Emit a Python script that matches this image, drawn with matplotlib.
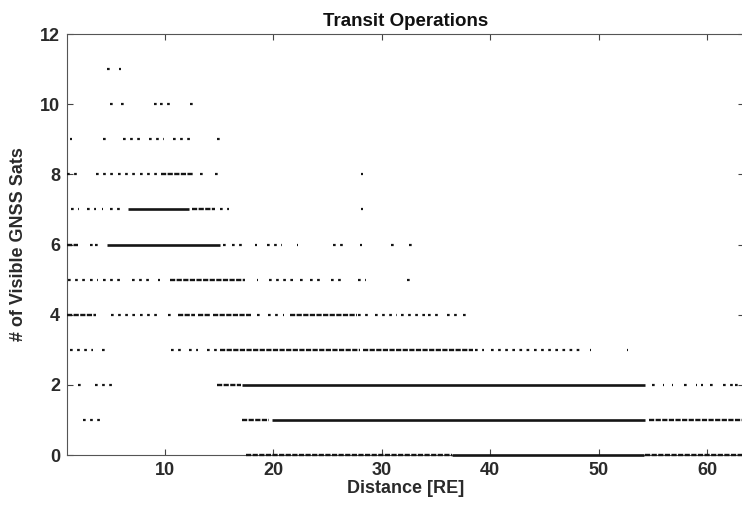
import matplotlib
matplotlib.use("Agg")
import matplotlib.pyplot as plt

# ---- data: runs of observations (distance [RE]) per number of visible sats ----
# solid = continuous dense coverage, dense = closely packed dashes, sparse = scattered dots
solid_runs = {
    0: [(36.5, 54.2)],
    1: [(19.9, 54.3)],
    2: [(17.1, 54.3)],
    6: [(4.7, 15.1)],
    7: [(6.65, 12.2)],
}
dense_runs = {
    0: [(17.5, 36.5), (54.3, 63.2)],
    1: [(17.1, 19.6), (54.6, 63.2)],
    2: [(14.8, 17.0)],
    3: [(15.1, 28.0), (28.3, 38.4)],
    4: [(1.0, 3.7), (11.2, 12.8), (13.1, 14.2), (14.5, 18.0), (21.6, 27.7)],
    5: [(10.5, 17.4)],
    6: [(1.0, 2.0)],
    7: [(12.5, 14.6)],
    8: [(9.7, 12.6)],
}
sparse_runs = {
    1: [(2.5, 4.3)],
    2: [(2.0, 2.7), (3.6, 5.4), (54.9, 55.3), (55.9, 56.0), (56.8, 56.9), (57.9, 58.2),
        (59.0, 59.1), (59.4, 59.6), (60.3, 60.8), (61.5, 62.4), (62.6, 63.2)],
    3: [(1.3, 3.4), (4.2, 4.8), (10.6, 11.9), (12.2, 13.1), (13.9, 15.0), (38.6, 39.4),
        (40.1, 43.7), (44.0, 48.4), (49.2, 49.3), (52.6, 52.7)],
    4: [(5.1, 7.4), (7.7, 9.3), (10.3, 11.0), (18.5, 19.1), (19.5, 20.6), (20.9, 21.0),
        (27.8, 28.7), (29.4, 31.4), (31.8, 34.0), (34.3, 35.2), (36.0, 37.1), (37.5, 37.8)],
    5: [(1.1, 2.7), (3.1, 3.9), (4.3, 6.0), (7.0, 8.8), (9.4, 9.6), (18.5, 18.6),
        (19.6, 21.9), (22.5, 22.8), (23.4, 24.5), (25.3, 26.5), (27.8, 28.6), (32.3, 32.6)],
    6: [(3.1, 3.4), (3.6, 4.2), (15.4, 15.7), (16.2, 17.1), (18.3, 18.5), (19.4, 20.8),
        (22.2, 22.3), (25.5, 26.5), (28.0, 28.2), (30.9, 31.1), (32.5, 32.8)],
    7: [(1.4, 2.1), (2.8, 3.7), (4.2, 4.3), (5.0, 6.0), (15.1, 15.9), (28.1, 28.3)],
    8: [(1.0, 1.9), (3.7, 5.3), (5.7, 7.3), (7.7, 9.3), (13.3, 13.6), (14.6, 15.3), (28.1, 28.3)],
    9: [(1.3, 1.5), (4.3, 5.0), (6.2, 7.7), (8.6, 9.9), (10.8, 12.3), (14.8, 15.1)],
    10: [(5.0, 5.6), (6.0, 6.3), (9.0, 9.3), (9.6, 10.8), (12.3, 12.6)],
    11: [(4.7, 5.3), (5.8, 6.0)],
}

x_ticks = [10, 20, 30, 40, 50, 60]
y_ticks = [0, 2, 4, 6, 8, 10, 12]
title = "Transit Operations"
xlabel = "Distance [RE]"
ylabel = "# of Visible GNSS Sats"

plt.rcParams['font.family'] = ['Liberation Sans', 'DejaVu Sans']

fig = plt.figure(figsize=(7.42, 5.15), dpi=100)
ax = fig.add_axes([67 / 742, 1 - 455 / 515, 677 / 742, 421 / 515])

ink = "#151515"


def draw(runs, ls, lw):
    for level, segs in runs.items():
        for a, b in segs:
            ax.hlines(level, a, b, colors=ink, linewidth=lw, linestyles=ls,
                      clip_on=False, zorder=3)


draw(solid_runs, "solid", 1.9)
draw(dense_runs, (0, (2.2, 0.6)), 1.7)
draw(sparse_runs, (0, (1.2, 2.0)), 1.6)

ax.set_xlim(1, 63.4)
ax.set_ylim(0, 12)
ax.set_xticks(x_ticks)
ax.set_yticks(y_ticks)

lab_color = "#2a2a2a"
ax.tick_params(direction="in", length=4.5, width=0.8, top=True, right=True, pad=5,
               labelsize=13, colors="#444444", labelcolor=lab_color)
for lab in ax.get_xticklabels() + ax.get_yticklabels():
    lab.set_fontweight("bold")
for s in ax.spines.values():
    s.set_color("#555555")
    s.set_linewidth(0.8)

ax.set_title(title, fontsize=13.5, fontweight="bold", color="#111111", pad=6)
ax.set_xlabel(xlabel, fontsize=13, fontweight="bold", color=lab_color, labelpad=1)
ax.set_ylabel(ylabel, fontsize=13, fontweight="bold", color=lab_color, labelpad=9)

fig.savefig("out.png", dpi=100)
